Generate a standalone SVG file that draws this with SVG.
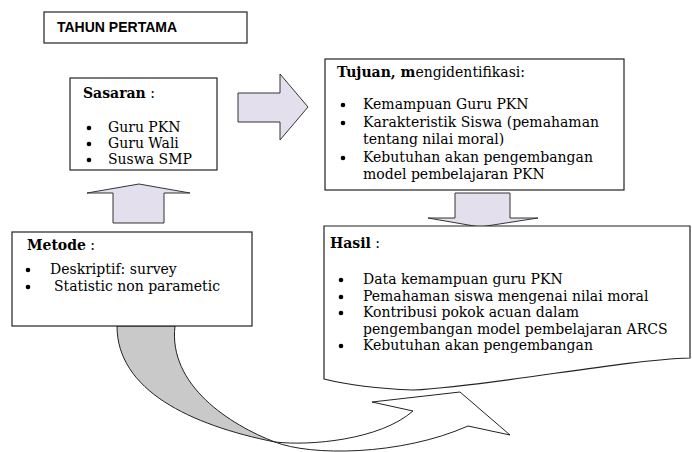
<svg xmlns="http://www.w3.org/2000/svg" width="692" height="452" viewBox="0 0 692 452">
<style>
.box{fill:#fff;stroke:#222;stroke-width:1.2}
.arr{fill:#E4DFEC;stroke:#333;stroke-width:1}
.t{font-family:"DejaVu Serif","Liberation Serif",serif;font-size:14px;fill:#000}
.b{font-weight:bold}
.h{font-family:"Liberation Sans",Arial,sans-serif;font-size:14px;font-weight:bold;fill:#000}
.dot{fill:#000}
</style>
<g id="connectors">
  <path d="M117,326 C117,390 190,425 275,442 C230,425 168,385 175,326 Z" fill="#C9C9C9" stroke="#222" stroke-width="1"/>
  <path d="M275,442 C310,456 400,456 468,426 L510,435 L460,392 L372,402 L413,411 C380,440 310,446 275,442 Z" fill="#fff" stroke="#222" stroke-width="1"/>
  <path class="arr" d="M238,93 H280 V74 L308,107 L280,140 V122 H238 Z"/>
  <path class="arr" d="M113,223 V193 H87 L139,184 L190,193 H164 V223 Z"/>
  <path class="arr" d="M455,193 H510 V218 H538 L480,227 L428,218 H455 Z"/>
</g>
<g id="tahun">
  <rect class="box" x="44" y="12" width="203" height="31" stroke-width="1.5"/>
  <text class="h" x="57" y="32">TAHUN PERTAMA</text>
</g>
<g id="sasaran">
  <rect class="box" x="70" y="78" width="147" height="92"/>
  <text class="t" x="83" y="98"><tspan class="b">Sasaran</tspan> :</text>
  <circle class="dot" cx="89" cy="128" r="2.3"/>
  <circle class="dot" cx="89" cy="144" r="2.3"/>
  <circle class="dot" cx="89" cy="160" r="2.3"/>
  <text class="t" x="108" y="132">Guru PKN</text>
  <text class="t" x="108" y="148">Guru Wali</text>
  <text class="t" x="108" y="164">Suswa SMP</text>
</g>
<g id="tujuan">
  <rect class="box" x="325" y="59" width="299" height="131"/>
  <text class="t" x="337" y="77" font-size="12.5px"><tspan class="b">Tujuan, m</tspan>engidentifikasi:</text>
  <circle class="dot" cx="343" cy="105" r="2.3"/>
  <circle class="dot" cx="343" cy="123" r="2.3"/>
  <circle class="dot" cx="343" cy="158" r="2.3"/>
  <text class="t" x="363" y="109">Kemampuan Guru PKN</text>
  <text class="t" x="363" y="127">Karakteristik Siswa (pemahaman</text>
  <text class="t" x="363" y="144">tentang nilai moral)</text>
  <text class="t" x="363" y="162">Kebutuhan akan pengembangan</text>
  <text class="t" x="363" y="179">model pembelajaran PKN</text>
</g>
<g id="metode">
  <rect class="box" x="12" y="232" width="240" height="94"/>
  <text class="t" x="27" y="250"><tspan class="b">Metode</tspan> :</text>
  <circle class="dot" cx="28" cy="270" r="2.3"/>
  <circle class="dot" cx="28" cy="287" r="2.3"/>
  <text class="t" x="50" y="274">Deskriptif: survey</text>
  <text class="t" x="54" y="291">Statistic non parametic</text>
</g>
<g id="hasil">
  <path class="box" d="M324,226 H690 V358 C620,360 500,385 413,390 Q360,388 324,379 Z"/>
  <text class="t" x="330" y="248"><tspan class="b">Hasil</tspan> :</text>
  <circle class="dot" cx="341" cy="280" r="2.3"/>
  <circle class="dot" cx="341" cy="297" r="2.3"/>
  <circle class="dot" cx="341" cy="313" r="2.3"/>
  <circle class="dot" cx="341" cy="346" r="2.3"/>
  <text class="t" x="363" y="284">Data kemampuan guru PKN</text>
  <text class="t" x="363" y="301">Pemahaman siswa mengenai nilai moral</text>
  <text class="t" x="363" y="317">Kontribusi pokok acuan dalam</text>
  <text class="t" x="363" y="334">pengembangan model pembelajaran ARCS</text>
  <text class="t" x="363" y="350">Kebutuhan akan pengembangan</text>
</g>
</svg>
